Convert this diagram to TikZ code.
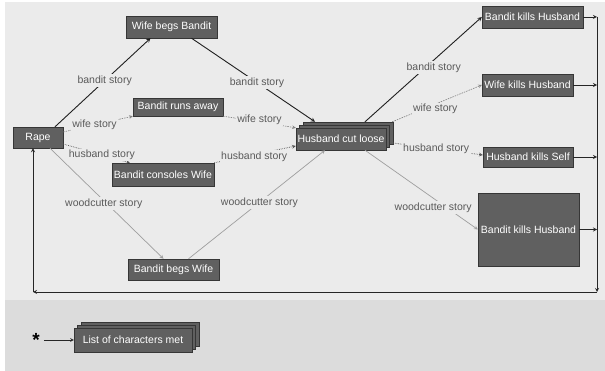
\documentclass[tikz,border=0pt]{standalone}
\usepackage{fontspec}
\setmainfont{Liberation Sans}
\usepackage{tikz}
\usetikzlibrary{arrows,
  calc,
  positioning,
  shadows
}

\definecolor{paneltop}{HTML}{EBEBEB}
\definecolor{panelbot}{HTML}{DCDCDC}
\definecolor{boxfill}{HTML}{606060}
\definecolor{boxline}{HTML}{363636}
\definecolor{lbltext}{HTML}{5A5A5A}

\tikzset{
  scene/.style={draw=boxline,fill=boxfill,text=white,inner sep=0pt,
    font=\fontsize{10.5}{12}\selectfont},
  stack/.style={scene,double copy shadow={shadow xshift=3.5pt,shadow yshift=3pt}},
  lbl/.style={fill=paneltop,text=lbltext,inner sep=1.5pt,
    font=\fontsize{10.5}{12}\selectfont},
  bandit/.style={->,>=stealth,draw=black!88,line width=0.9pt},
  wife/.style={->,>=stealth,draw=black!50,line width=0.6pt,dash pattern=on 1.5pt off 1pt},
  husband/.style={->,>=stealth,draw=black!68,line width=0.7pt,densely dotted},
  woodcutter/.style={->,>=stealth,draw=black!38,line width=0.7pt},
  bus/.style={->,>=stealth,draw=black!85,line width=0.8pt}
}

\begin{document}
\begin{tikzpicture}[x=1pt,y=-1pt]
  \useasboundingbox (0,0) rectangle (605,371);
  \fill[paneltop] (5,2) rectangle (605,300);
  \fill[panelbot] (5,300) rectangle (605,371);

  % scenes
  \node[scene,minimum width=50pt,minimum height=21pt] (rape) at (38,137.5) {Rape};
  \node[scene,minimum width=91pt,minimum height=22pt] (wbb) at (171.5,27) {Wife begs Bandit};
  \node[scene,minimum width=90pt,minimum height=18pt] (bra) at (178,107) {Bandit runs away};
  \node[scene,minimum width=102pt,minimum height=23pt] (bcw) at (163,174.5) {Bandit consoles Wife};
  \node[scene,minimum width=91pt,minimum height=21pt] (bbw) at (173.5,269.5) {Bandit begs Wife};
  \node[stack,minimum width=90pt,minimum height=22pt] (hcl) at (341,139) {Husband cut loose};

  % endings
  \node[scene,minimum width=101pt,minimum height=22pt] (bkh) at (532.5,17) {Bandit kills Husband};
  \node[scene,minimum width=91pt,minimum height=22pt] (wkh) at (527.5,85) {Wife kills Husband};
  \node[scene,minimum width=90pt,minimum height=20pt] (hks) at (528,157) {Husband kills Self};
  \node[scene,minimum width=101pt,minimum height=73pt] (bkhw) at (528.5,229.5) {Bandit kills Husband};

  % legend
  \node[stack,minimum width=118pt,minimum height=24pt] (list) at (133,340) {List of characters met};
  \node[font=\fontsize{19}{19}\selectfont\bfseries,inner sep=0pt] (star) at (36,340) {\raisebox{-0.32em}{*}};
  \draw[bus,line width=0.6pt] (star.east) ++(4pt,0) coordinate (starend) (starend) -- (list.west);

  % bandit story
  \draw[bandit] ([xshift=17pt]rape.north) -- node[lbl,pos=0.52] {bandit story} ([xshift=-21pt]wbb.south);
  \draw[bandit] ([xshift=20pt]wbb.south) -- node[lbl,pos=0.53] {bandit story} ([xshift=-26pt,yshift=6pt]hcl.north);
  \draw[bandit] ([xshift=24pt,yshift=6pt]hcl.north) -- node[lbl,pos=0.52,xshift=8pt] {bandit story} (bkh.west);

  % wife story
  \draw[wife] ([yshift=5.5pt]rape.east) -- node[lbl,pos=0.45] {wife story} (bra.south west);
  \draw[wife] (bra.south east) -- node[lbl,pos=0.5,yshift=2pt] {wife story} (hcl.north west);
  \draw[wife] ([xshift=6pt,yshift=6pt]hcl.north east) -- node[lbl,pos=0.48,yshift=-5pt] {wife story} (wkh.west);

  % husband story
  \draw[husband] ([yshift=-6.5pt]rape.east) -- node[lbl,pos=0.58] {husband story} ([xshift=18pt]bcw.north west);
  \draw[husband] (bcw.north east) -- node[lbl,pos=0.49,yshift=-2pt] {husband story} ([yshift=-7pt]hcl.west);
  \draw[husband] ([xshift=7pt,yshift=-4pt]hcl.east) -- node[lbl,pos=0.48] {husband story} ([yshift=2pt]hks.west);

  % woodcutter story
  \draw[woodcutter] ([xshift=12pt]rape.south) -- node[lbl,pos=0.5,xshift=-3pt] {woodcutter story} ([xshift=-10pt]bbw.north);
  \draw[woodcutter] ([xshift=15pt]bbw.north) -- node[lbl,pos=0.52] {woodcutter story} ([xshift=-16pt]hcl.south);
  \draw[woodcutter] ([xshift=24pt]hcl.south) -- node[lbl,pos=0.72,xshift=-13pt] {woodcutter story} (bkhw.west);

  % back to the start
  \coordinate (bustop) at (597,17);
  \coordinate (busbot) at (597,292);
  \coordinate (busleft) at (33,292);
  \draw[bus] (bkh.east) -- (bkh.east -| bustop);
  \draw[bus] (wkh.east) -- (wkh.east -| bustop);
  \draw[bus] (hks.east) -- (hks.east -| bustop);
  \draw[bus] (bkhw.east) -- (bkhw.east -| bustop);
  \draw[bus] (bustop) -- (busbot);
  \draw[bus] (busbot) -- (busleft);
  \draw[bus] (busleft) -- (busleft |- rape.south);
\end{tikzpicture}
\end{document}
